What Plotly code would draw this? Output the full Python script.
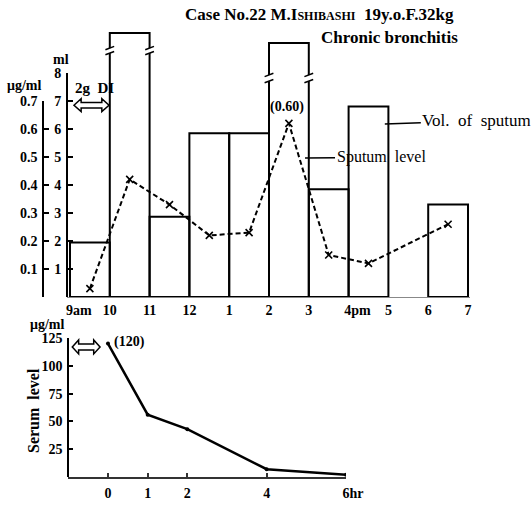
import plotly.graph_objects as go

# ---------------- data ----------------
hour_ticks = [9, 10, 11, 12, 13, 14, 15, 16, 17, 18, 19]
hour_labels = ["\u2003\u00a09am", "10", "11", "12", "1", "2", "3", "\u2003\u00a04pm", "5", "6", "7"]

vol_mid = [9.5, 10.5, 11.5, 12.5, 13.5, 14.5, 15.5, 16.5, 17.5, 18.5]
vol_ml = [1.95, 9.43, 2.87, 5.85, 5.85, 9.07, 3.85, 6.8, None, 3.3]
break_gap = {1: (8.71, 8.89), 5: (7.71, 7.93)}

spu_hour = [9.5, 10.5, 11.5, 12.5, 13.5, 14.5, 15.5, 16.5, 18.5]
spu_level = [0.03, 0.42, 0.33, 0.22, 0.23, 0.62, 0.15, 0.12, 0.26]

ml_ticks = [1, 2, 3, 4, 5, 6, 7, 8]
ug_ticks = [0, 0.1, 0.2, 0.3, 0.4, 0.5, 0.6, 0.7]
ug_labels = ["", "0.1", "0.2", "0.3", "0.4", "0.5", "0.6", "0.7"]

ser_hour = [0, 1, 2, 4, 6]
ser_level = [120, 56, 43, 7, 2]
ser_xticks = [0, 1, 2, 4, 6]
ser_xlabels = ["0", "1", "2", "4", "\u20036hr"]
ser_yticks = [25, 50, 75, 100, 125]

# ---------------- layout helpers ----------------
W, H = 531, 509
SERIF = "Liberation Serif"


def px(p):
    return p / W


def py(p):
    return 1 - p / H


bold = dict(family=SERIF, size=14, color="black", weight="bold")

fig = go.Figure()

fig.add_trace(go.Bar(
    x=vol_mid, y=vol_ml, width=1, xaxis="x", yaxis="y3",
    marker=dict(color="rgba(0,0,0,0)", line=dict(color="black", width=2)),
    showlegend=False, hoverinfo="skip"))

fig.add_trace(go.Scatter(
    x=spu_hour, y=spu_level, xaxis="x", yaxis="y5", mode="lines+markers",
    line=dict(color="black", width=2, dash="5px,3px"),
    marker=dict(symbol="x-thin", size=7, line=dict(width=1.6, color="black")),
    showlegend=False))

# empty trace so the separate µg/ml axis gets drawn
fig.add_trace(go.Scatter(x=[], y=[], xaxis="x", yaxis="y2", mode="lines",
                         showlegend=False, hoverinfo="skip"))

fig.add_trace(go.Scatter(
    x=ser_hour, y=ser_level, xaxis="x2", yaxis="y4", mode="lines+markers",
    line=dict(color="black", width=2.5),
    marker=dict(symbol="circle", size=4, color="black"),
    showlegend=False))

shapes = []
# break marks on the tall bars
for i, (lo, hi) in break_gap.items():
    for xe in (vol_mid[i] - 0.5, vol_mid[i] + 0.5):
        shapes.append(dict(type="rect", xref="x", yref="y3", x0=xe - 0.08, x1=xe + 0.08,
                           y0=lo, y1=hi, fillcolor="white", line=dict(width=0), layer="above"))
        for yy in (lo, hi):
            shapes.append(dict(type="line", xref="x", yref="y3", x0=xe - 0.11, x1=xe + 0.11,
                               y0=yy - 0.06, y1=yy + 0.06, line=dict(color="black", width=1.5),
                               layer="above"))


def dbl_arrow(xref, yref, x0, x1, yc, hh, sh, head):
    pts = [(x0, yc), (x0 + head, yc + hh), (x0 + head, yc + sh), (x1 - head, yc + sh),
           (x1 - head, yc + hh), (x1, yc), (x1 - head, yc - hh), (x1 - head, yc - sh),
           (x0 + head, yc - sh), (x0 + head, yc - hh)]
    path = "M " + " L ".join(f"{a},{b}" for a, b in pts) + " Z"
    return dict(type="path", xref=xref, yref=yref, path=path, fillcolor="white",
                line=dict(color="black", width=1.5), layer="above")


shapes.append(dbl_arrow("x", "y", 9.1, 9.98, 6.85, 0.23, 0.1, 0.18))
shapes.append(dbl_arrow("x2", "y4", -0.9, -0.2, 117, 6.3, 2.7, 0.16))

annotations = [
    dict(xref="paper", yref="paper", x=px(183), y=py(15), xanchor="left", yanchor="middle",
         text="Case No.22 M.I<span style='font-size:12px'>SHIBASHI</span>\u00a0\u00a019y.o.F.32kg",
         showarrow=False, font=dict(family=SERIF, size=17, color="black", weight="bold")),
    dict(xref="paper", yref="paper", x=px(460), y=py(38), xanchor="right", yanchor="middle",
         text="Chronic bronchitis", showarrow=False,
         font=dict(family=SERIF, size=17, color="black", weight="bold")),
    dict(xref="paper", yref="paper", x=px(61), y=py(59), xanchor="center", yanchor="middle",
         text="ml", showarrow=False, font=bold),
    dict(xref="paper", yref="paper", x=px(43), y=py(86), xanchor="right", yanchor="middle",
         text="\u03bcg/ml", showarrow=False, font=bold),
    dict(xref="paper", yref="paper", x=px(73), y=py(88), xanchor="left", yanchor="middle",
         text="2g\u00a0 DI", showarrow=False, font=dict(family=SERIF, size=15, color="black", weight="bold")),
    dict(xref="x", yref="y5", x=14.45, y=0.679, xanchor="center", yanchor="middle",
         text="(0.60)", showarrow=False, font=bold),
    dict(xref="x", yref="y3", x=16.91, y=6.18, ax=92, ay=-3, text="Vol.\u00a0 of\u00a0 sputum",
         showarrow=True, arrowhead=0, arrowwidth=1.5, arrowcolor="black",
         font=dict(family=SERIF, size=17, color="black")),
    dict(xref="x", yref="y5", x=14.905, y=0.496, ax=76, ay=-1, text="Sputum\u00a0 level",
         showarrow=True, arrowhead=0, arrowwidth=1.5, arrowcolor="black",
         font=dict(family=SERIF, size=16, color="black")),
    dict(xref="paper", yref="paper", x=px(47), y=py(324), xanchor="center", yanchor="middle",
         text="\u03bcg/ml", showarrow=False, font=bold),
    dict(xref="paper", yref="paper", x=px(33), y=py(411), xanchor="center", yanchor="middle",
         text="Serum\u00a0 level", textangle=-90, showarrow=False,
         font=dict(family=SERIF, size=16, color="black", weight="bold")),
    dict(xref="x2", yref="y4", x=0.55, y=121.5, xanchor="center", yanchor="middle",
         text="(120)", showarrow=False, font=bold),
]

axis_common = dict(showgrid=False, zeroline=False, tickfont=bold, ticklabelstandoff=2,
                   automargin=False)

fig.update_layout(
    width=W, height=H, margin=dict(l=0, r=0, t=0, b=0, autoexpand=False),
    paper_bgcolor="white", plot_bgcolor="rgba(0,0,0,0)", showlegend=False,
    xaxis=dict(domain=[px(67), px(470)], range=[8.925, 19.05], anchor="y",
               showline=True, linecolor="#888", linewidth=1, ticks="",
               tickmode="array", tickvals=hour_ticks, ticktext=hour_labels,
               showgrid=False, zeroline=False, tickfont=bold, ticklabelstandoff=0,
               automargin=False),
    yaxis=dict(domain=[py(297), py(73)], range=[0, 8], anchor="free", position=px(67),
               showline=True, linecolor="black", linewidth=2, ticks="inside", ticklen=5,
               tickwidth=2, tickcolor="black", tickmode="array", tickvals=ml_ticks,
               ticktext=[str(v) for v in ml_ticks], **axis_common),
    yaxis2=dict(domain=[py(297), py(101)], range=[0, 0.7], anchor="free", position=px(43),
                showline=True, linecolor="black", linewidth=1.5, ticks="inside", ticklen=5,
                tickwidth=1.5, tickcolor="black", tickmode="array", tickvals=ug_ticks,
                ticktext=ug_labels, **axis_common),
    yaxis3=dict(domain=[py(297), py(20)], range=[0, 277 / 28], anchor="x", visible=False,
                automargin=False),
    yaxis5=dict(overlaying="y3", range=[0, 277 / 280], anchor="x", visible=False,
                automargin=False),
    xaxis2=dict(domain=[px(68), px(346)], range=[-1.008, 6.0], anchor="y4",
                showline=True, linecolor="#333", linewidth=1.5, ticks="inside", ticklen=4,
                tickwidth=1.5, tickcolor="#333", tickmode="array", tickvals=ser_xticks,
                ticktext=ser_xlabels, **axis_common),
    yaxis4=dict(domain=[py(477), py(338)], range=[0, 125], anchor="free", position=px(68),
                showline=True, linecolor="black", linewidth=1.5, ticks="inside", ticklen=4,
                tickwidth=1.5, tickcolor="black", tickmode="array", tickvals=ser_yticks,
                **axis_common),
    shapes=shapes, annotations=annotations,
)

fig.write_html("out.html")
